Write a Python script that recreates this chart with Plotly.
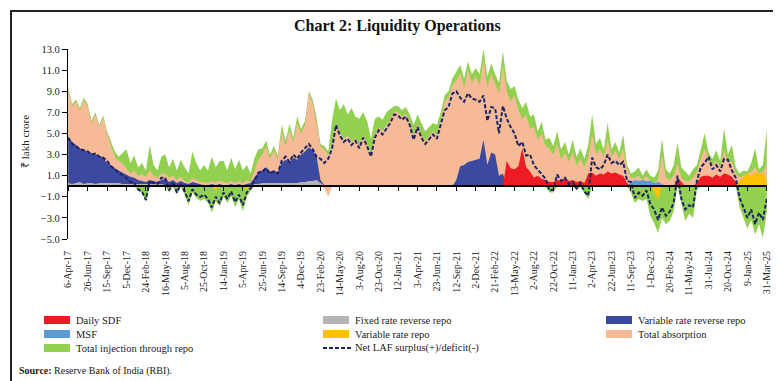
import pandas as pd
import plotly.graph_objects as go

# ---------------- DATA (lakh crore, sampled every ~16 days) ----------------
start_date = "2017-04-06"
end_date = "2025-03-31"
n_points = 181

total_absorption = [
    9.2, 7.6, 8.0, 7.2, 8.2,
    7.6, 6.0, 6.8, 5.6, 6.5,
    5.0, 3.8, 2.8, 2.4, 2.2,
    1.6, 1.2, 1.5, 1.0, 1.1,
    0.9, 1.5, 1.0, 0.8, 1.2,
    1.2, 0.8, 1.0, 0.6, 0.9,
    0.5, 0.3, 0.8, 0.6, 0.4,
    0.4, 0.3, 0.5, 0.4, 0.5,
    0.4, 0.3, 0.5, 0.3, 0.5,
    0.3, 0.6, 0.4, 1.5, 2.5,
    3.0, 3.8, 2.6, 3.4, 2.5,
    5.2, 3.8, 5.4, 4.2, 6.0,
    5.0, 5.8, 8.8, 7.8, 6.0,
    3.8, 3.5, 3.0, 4.0, 6.0,
    5.1, 4.5, 4.8, 4.2, 4.6,
    3.9, 4.9, 4.1, 3.1, 4.9,
    5.6, 5.2, 5.8, 6.3, 7.1,
    7.0, 6.6, 6.9, 6.1, 4.7,
    5.9, 4.9, 4.3, 4.7, 5.2,
    4.8, 6.2, 8.0, 8.4, 9.6,
    10.0, 10.7, 9.4, 11.0, 9.8,
    10.4, 9.6, 12.0, 9.4, 10.6,
    9.6, 8.8, 11.5, 9.0, 8.0,
    8.6, 7.2, 6.4, 6.8, 5.5,
    5.6, 4.4, 5.0, 3.8, 3.6,
    3.0, 4.0, 2.6, 3.2, 2.4,
    3.2, 2.0, 2.6, 1.8, 2.8,
    5.0, 3.0, 3.5, 2.8, 4.5,
    2.8, 3.4, 2.6, 3.6, 1.6,
    0.8, 0.8, 1.0, 0.6, 1.0,
    0.5, 0.3, 0.6, 3.0, 0.8,
    0.6, 1.0, 2.2, 0.8, 0.5,
    0.5, 0.8, 1.4, 2.6, 3.5,
    2.6, 2.0, 2.4, 1.8, 3.4,
    2.2, 2.4, 1.2, 0.8, 1.0,
    1.2, 1.4, 1.8, 1.2, 1.4,
    2.0]

total_absorption_below = [
    0, 0, 0, 0, 0, 0, 0, 0, 0, 0, 0, 0, 0, 0, 0, 0, 0, 0, 0, 0,
    0, 0, 0, 0, 0, 0, 0, 0, 0, 0, 0, 0, 0, 0, 0, 0, 0, 0, 0, 0,
    0, 0, 0, 0, 0, 0, 0, 0, 0, 0, 0, 0, 0, 0, 0, 0, 0, 0, 0, 0,
    0, 0, 0, 0, 0, 0, -0.2, -1.0, 0, 0, 0, 0, 0, 0, 0, 0, 0, 0, 0, 0,
    0, 0, 0, 0, 0, 0, 0, 0, 0, 0, 0, 0, 0, 0, 0, 0, 0, 0, 0, 0,
    0, 0, 0, 0, 0, 0, 0, 0, 0, 0, 0, 0, 0, 0, 0, 0, 0, 0, 0, 0,
    0, 0, 0, 0, 0, 0, 0, 0, 0, 0, 0, 0, 0, 0, 0, 0, 0, 0, 0, 0,
    0, 0, 0, 0, 0, 0, 0, 0, 0, 0, 0, 0, 0, 0, 0, 0, 0, 0, 0, 0,
    0, 0, 0, 0, 0, 0, 0, 0, 0, 0, 0, 0, 0, 0, 0, 0, 0, 0, 0, 0,
    0]

injection_top = [
    9.4, 7.8, 8.2, 7.4, 8.4,
    7.8, 6.2, 7.0, 5.8, 6.7,
    5.2, 4.2, 3.3, 2.8, 3.2,
    3.5, 2.2, 2.9, 1.8, 2.2,
    1.5, 3.9, 2.0, 1.5, 2.8,
    3.0, 1.8, 2.6, 1.5, 2.5,
    1.8, 1.2, 3.3, 2.2, 1.5,
    2.0, 1.5, 2.8, 1.8, 2.4,
    2.4, 1.5, 2.7, 1.6, 2.5,
    1.5, 2.0, 1.2, 2.7, 3.5,
    3.6, 4.3, 3.0, 3.8, 2.9,
    5.8, 4.3, 5.9, 4.6, 6.6,
    5.4, 6.2, 9.0, 8.2, 6.5,
    4.0, 3.8, 3.3, 6.3, 8.3,
    7.2, 7.8, 6.8, 7.4, 6.6,
    6.4, 7.0, 6.2, 4.5, 6.4,
    6.6, 6.3, 7.0, 7.3, 7.6,
    7.6, 7.2, 7.5, 6.8, 5.8,
    6.8, 6.0, 5.2, 5.6, 6.0,
    5.8, 7.0, 8.6, 9.0, 10.2,
    10.8, 11.5, 10.2, 11.8, 10.6,
    11.2, 10.6, 13.0, 10.4, 11.6,
    10.6, 9.8, 12.8, 10.0, 9.2,
    9.5, 8.2, 7.4, 8.0, 6.6,
    6.8, 5.2, 6.1, 4.4, 4.6,
    3.8, 5.2, 3.5, 4.2, 3.0,
    4.4, 2.8, 3.6, 2.6, 3.9,
    6.8, 4.0, 4.6, 3.5, 6.0,
    3.5, 4.2, 3.2, 4.9, 2.0,
    1.2, 1.4, 1.8, 1.0, 1.6,
    1.0, 0.8, 1.5, 4.5, 1.6,
    1.2, 2.0, 4.1, 1.8, 1.4,
    1.0, 1.6, 2.0, 3.5, 5.0,
    3.2, 2.6, 3.4, 2.4, 5.5,
    3.0, 3.9, 1.8, 1.2, 1.5,
    1.4, 2.2, 3.6, 1.6, 2.0,
    5.4]

injection_below = [
    0, 0, 0, 0, 0,
    0, 0, 0, 0, 0,
    0, 0, 0, 0, 0,
    0, 0, 0, -0.4, -0.6,
    -1.5, 0, 0, 0, 0,
    0, -0.6, 0, -0.8, 0,
    -0.8, -1.8, -0.6, -1.1, -1.4,
    -1.2, -1.6, -2.5, -1.4, -1.9,
    -1.0, -1.6, -0.9, -2.0, -1.2,
    -2.4, -1.0, -0.4, 0, 0,
    0, 0, 0, 0, 0, 0, 0, 0, 0, 0,
    0, 0, 0, 0, 0, 0, 0, 0, 0, 0,
    0, 0, 0, 0, 0, 0, 0, 0, 0, 0,
    0, 0, 0, 0, 0, 0, 0, 0, 0, 0,
    0, 0, 0, 0, 0, 0, 0, 0, 0, 0,
    0, 0, 0, 0, 0, 0, 0, 0, 0, 0,
    0, 0, 0, 0, 0, 0, 0, 0, 0, 0,
    0, 0, 0, 0, -0.6,
    -0.6, 0, 0, 0, 0,
    0, -0.4, 0, -0.7, -1.2,
    0, 0, 0, 0, 0,
    0, 0, 0, 0, 0,
    -0.6, -1.6, -1.2, -1.4, -1.2,
    -2.8, -3.5, -4.4, -3.0, -3.6,
    -3.3, -2.4, 0, -1.8, -3.3,
    -2.6, -3.0, -0.3, 0, 0,
    0, 0, 0, 0, 0,
    0, 0, 0, -2.0, -3.0,
    -4.0, -3.2, -4.6, -3.6, -4.9,
    -2.5]

net_laf = [
    4.6, 4.0, 3.8, 3.5, 3.4,
    3.3, 3.0, 3.1, 2.8, 2.7,
    2.4, 1.9, 1.6, 1.3, 1.0,
    0.8, 0.4, 0.3, -0.3, -0.5,
    -1.3, 0.5, 0.3, 0.2, 0.8,
    0.8, -0.4, 0.4, -0.6, 0.2,
    -0.5, -1.4, -0.3, -0.8, -1.0,
    -0.8, -1.2, -2.0, -1.0, -1.6,
    -0.6, -1.2, -0.5, -1.5, -0.8,
    -1.8, -0.6, -0.2, 0.6, 1.3,
    1.4, 1.7, 1.2, 1.4, 1.2,
    2.4, 2.8, 2.3, 3.0, 2.6,
    3.2, 3.6, 4.0, 3.5, 2.8,
    2.6, 2.2, 2.6, 3.6, 5.8,
    4.8, 4.2, 4.5, 3.9, 4.3,
    3.6, 4.6, 3.8, 2.8, 4.6,
    5.3, 4.9, 5.5, 6.0, 6.8,
    6.7, 6.3, 6.6, 5.8, 4.4,
    5.6, 4.6, 4.0, 4.4, 4.9,
    4.5, 5.8, 7.2, 7.5, 8.8,
    9.0, 8.4, 8.0, 8.8, 8.3,
    8.2, 8.0, 8.6, 6.2, 7.5,
    7.4, 5.0, 7.6, 6.4, 5.6,
    5.0, 3.8, 4.2, 2.9, 3.0,
    2.0, 1.6, 1.2, 0.7, -0.4,
    -0.3, 1.1, 0.5, 0.8, 0.2,
    0.4, -0.2, 0.3, -0.5, -0.9,
    2.7, 1.8, 1.6, 2.0, 3.0,
    2.2, 2.4, 2.0, 2.3, 0.5,
    0.4, -1.1, -0.6, -0.9, -0.4,
    -1.7, -2.2, -3.2, -2.0, -2.8,
    -2.4, -1.6, 1.0, -1.2, -2.2,
    -1.8, -2.0, 0.5, 1.8, 2.2,
    2.8, 1.6, 2.0, 1.4, 2.6,
    2.5, 1.5, 0.8, -1.1, -2.0,
    -3.0, -2.2, -3.6, -2.5, -3.2,
    -1.2]

fixed_rate_reverse_repo = [
    0.3, 0.2, 0.3, 0.4, 0.2,
    0.3, 0.3, 0.2, 0.3, 0.3,
    0.3, 0.3, 0.3, 0.3, 0.2,
    0.2, 0.2, 0.2, 0.2, 0.2,
    0.2, 0.2, 0.2, 0.2, 0.2,
    0.1, 0.1, 0.1, 0.1, 0.1,
    0.1, 0.1, 0.1, 0.1, 0.1,
    0.1, 0.1, 0.1, 0.1, 0.1,
    0.1, 0.1, 0.1, 0.1, 0.1,
    0.1, 0.1, 0.1, 0.2, 0.2,
    0.3, 0.3, 0.3, 0.3, 0.3,
    0.3, 0.3, 0.3, 0.3, 0.3,
    0.4, 0.4, 0.5, 0.5, 0.6,
    0.3, 0.1, 0, 0, 0,
    0, 0, 0, 0, 0, 0, 0, 0, 0, 0,
    0, 0, 0, 0, 0, 0, 0, 0, 0, 0,
    0, 0, 0, 0, 0, 0, 0, 0, 0, 0,
    0, 0, 0, 0, 0, 0, 0, 0, 0, 0,
    0, 0, 0, 0, 0, 0, 0, 0, 0, 0,
    0, 0, 0, 0, 0, 0, 0, 0, 0, 0,
    0, 0, 0, 0, 0, 0, 0, 0, 0, 0,
    0, 0, 0, 0, 0, 0, 0, 0, 0, 0,
    0, 0, 0, 0, 0, 0, 0, 0, 0, 0,
    0, 0, 0, 0, 0, 0, 0, 0, 0, 0,
    0, 0, 0, 0, 0, 0, 0, 0, 0, 0,
    0]

variable_rate_reverse_repo = [
    4.4, 4.0, 3.6, 3.2, 3.2,
    3.0, 2.8, 2.8, 2.6, 2.4,
    1.9, 1.7, 1.4, 1.2, 1.1,
    0.9, 0.7, 0.6, 0.4, 0.3,
    0.2, 0.4, 0.3, 0.2, 0.4,
    0.6, 0.3, 0.5, 0.2, 0.4,
    0.2, 0.1, 0.3, 0.2, 0.1,
    0.0, 0.0, 0.1, 0.0, 0.1,
    0.0, 0.0, 0.1, 0.0, 0.1,
    0.0, 0.1, 0.2, 0.6, 1.1,
    1.2, 1.5, 1.1, 1.2, 1.0,
    1.9, 2.2, 2.0, 2.4, 2.2,
    2.6, 2.9, 3.2, 2.9, 2.2,
    0.3, 0, 0, 0, 0,
    0, 0, 0, 0, 0,
    0, 0, 0, 0, 0,
    0, 0, 0, 0, 0,
    0, 0, 0, 0, 0,
    0, 0, 0, 0, 0,
    0, 0, 0, 0, 0,
    0.6, 1.9, 2.0, 2.3, 2.4,
    2.5, 2.6, 4.4, 2.0, 3.2,
    3.0, 1.0, 1.2, 0, 0,
    0, 0, 0, 0, 0, 0, 0, 0, 0, 0,
    0, 0, 0, 0, 0, 0, 0, 0, 0, 0,
    0, 0, 0, 0, 0, 0, 0, 0, 0, 0,
    0, 0, 0, 0, 0, 0, 0, 0, 0, 0,
    0, 0, 0, 0, 0, 0, 0, 0, 0, 0,
    0, 0, 0, 0, 0, 0, 0, 0, 0, 0,
    0, 0, 0, 0, 0,
    0]

daily_sdf = [
    0, 0, 0, 0, 0, 0, 0, 0, 0, 0, 0, 0, 0, 0, 0, 0, 0, 0, 0, 0,
    0, 0, 0, 0, 0, 0, 0, 0, 0, 0, 0, 0, 0, 0, 0, 0, 0, 0, 0, 0,
    0, 0, 0, 0, 0, 0, 0, 0, 0, 0, 0, 0, 0, 0, 0, 0, 0, 0, 0, 0,
    0, 0, 0, 0, 0, 0, 0, 0, 0, 0, 0, 0, 0, 0, 0, 0, 0, 0, 0, 0,
    0, 0, 0, 0, 0, 0, 0, 0, 0, 0, 0, 0, 0, 0, 0, 0, 0, 0, 0, 0,
    0, 0, 0, 0, 0, 0, 0, 0, 0, 0,
    0, 0, 0, 2.4, 1.7,
    1.6, 1.9, 3.6, 1.8, 1.4,
    0.8, 1.0, 0.7, 0.6, 0.4,
    0.4, 0.6, 0.5, 0.8, 0.5,
    0.6, 0.4, 0.5, 0.3, 1.2,
    1.3, 1.0, 1.2, 1.1, 1.4,
    1.2, 1.3, 1.1, 1.0, 0.3,
    0, 0, 0, 0, 0,
    0, 0, 0, 0, 0,
    0, 0, 0.8, 0.4, 0,
    0, 0, 0.3, 0.9, 1.0,
    1.0, 0.8, 1.1, 0.9, 1.2,
    1.1, 0.9, 0.4, 0, 0,
    0, 0, 0, 0, 0,
    0]

msf = [
    0, 0, 0, 0, 0, 0, 0, 0, 0, 0, 0, 0, 0, 0, 0, 0, 0, 0, 0, 0,
    0, 0, 0, 0, 0, 0, 0, 0, 0, 0, 0, 0, 0, 0, 0, 0, 0, 0, 0, 0,
    0, 0, 0, 0, 0, 0, 0, 0, 0, 0, 0, 0, 0, 0, 0, 0, 0, 0, 0, 0,
    0, 0, 0, 0, 0, 0, 0, 0, 0, 0, 0, 0, 0, 0, 0, 0, 0, 0, 0, 0,
    0, 0, 0, 0, 0, 0, 0, 0, 0, 0, 0, 0, 0, 0, 0, 0, 0, 0, 0, 0,
    0, 0, 0, 0, 0, 0, 0, 0, 0, 0, 0, 0, 0, 0, 0, 0, 0, 0, 0, 0,
    0, 0, 0, 0, 0, 0, 0, 0, 0, 0, 0, 0, 0, 0, 0, 0, 0, 0, 0, 0,
    0, 0, 0, 0, 0,
    0.4, 0.6, 0.5, 0.6, 0.5,
    0.5, 0.3, 0.4, 0.2, 0,
    0, 0, 0, 0, 0, 0, 0, 0, 0, 0,
    0, 0, 0, 0, 0, 0, 0, 0, 0, 0,
    0, 0, 0, 0, 0,
    0]

variable_rate_repo = [
    0, 0, 0, 0, 0, 0, 0, 0, 0, 0, 0, 0, 0, 0, 0, 0, 0, 0, 0, 0,
    0, 0, 0, 0, 0, 0, 0, 0, 0, 0, 0, 0, 0, 0, 0,
    0, 0, 0, -0.4, 0,
    0, 0, 0, 0, 0,
    0, -0.3, 0, 0, 0,
    0, 0, 0, 0, 0, 0, 0, 0, 0, 0, 0, 0, 0, 0, 0, 0, 0, 0, 0, 0,
    0, 0, 0, 0, 0, 0, 0, 0, 0, 0, 0, 0, 0, 0, 0, 0, 0, 0, 0, 0,
    0, 0, 0, 0, 0, 0, 0, 0, 0, 0, 0, 0, 0, 0, 0, 0, 0, 0, 0, 0,
    0, 0, 0, 0, 0, 0, 0, 0, 0, 0, 0, 0, 0, 0, 0, 0, 0, 0, 0, 0,
    0, 0, 0, 0, 0, 0, 0, 0, 0, 0, 0, 0, 0, 0, 0, 0, 0, 0, 0, 0,
    0, -0.5, -1.2, 0, 0,
    0, 0, 0, 0, 0,
    0, 0, 0, 0, 0,
    0, 0, 0, 0, 0,
    0, 0, 0, 0.6, 0.8,
    1.2, 1.0, 1.4, 1.1, 1.3,
    0.5]

tick_dates = ["2017-04-06", "2017-06-26", "2017-09-15", "2017-12-05", "2018-02-24",
              "2018-05-16", "2018-08-05", "2018-10-25", "2019-01-14", "2019-04-05",
              "2019-06-25", "2019-09-14", "2019-12-04", "2020-02-23", "2020-05-14",
              "2020-08-03", "2020-10-23", "2021-01-12", "2021-04-03", "2021-06-23",
              "2021-09-12", "2021-12-02", "2022-02-21", "2022-05-13", "2022-08-02",
              "2022-10-22", "2023-01-11", "2023-04-02", "2023-06-22", "2023-09-11",
              "2023-12-01", "2024-02-20", "2024-05-11", "2024-07-31", "2024-10-20",
              "2025-01-09", "2025-03-31"]
tick_labels = ["6-Apr-17", "26-Jun-17", "15-Sep-17", "5-Dec-17", "24-Feb-18",
               "16-May-18", "5-Aug-18", "25-Oct-18", "14-Jan-19", "5-Apr-19",
               "25-Jun-19", "14-Sep-19", "4-Dec-19", "23-Feb-20", "14-May-20",
               "3-Aug-20", "23-Oct-20", "12-Jan-21", "3-Apr-21", "23-Jun-21",
               "12-Sep-21", "2-Dec-21", "21-Feb-22", "13-May-22", "2-Aug-22",
               "22-Oct-22", "11-Jan-23", "2-Apr-23", "22-Jun-23", "11-Sep-23",
               "1-Dec-23", "20-Feb-24", "11-May-24", "31-Jul-24", "20-Oct-24",
               "9-Jan-25", "31-Mar-25"]
y_ticks = [-5, -3, -1, 1, 3, 5, 7, 9, 11, 13]

legend_items = [
    ("Daily SDF", "#ed1c24", "box"), ("Fixed rate reverse repo", "#b4b4b4", "box"),
    ("Variable rate reverse repo", "#3b4aa0", "box"),
    ("MSF", "#5b9bd5", "box"), ("Variable rate repo", "#ffc000", "box"),
    ("Total absorption", "#f6bb96", "box"),
    ("Total injection through repo", "#92d050", "box"),
    ("Net LAF surplus(+)/deficit(-)", "#1c2463", "dash"),
]

# ---------------- FIGURE ----------------
dates = pd.date_range(start_date, end_date, periods=n_points)
series = dict(total_absorption=total_absorption, total_absorption_below=total_absorption_below,
              injection_top=injection_top, injection_below=injection_below, net_laf=net_laf,
              fixed_rate_reverse_repo=fixed_rate_reverse_repo,
              variable_rate_reverse_repo=variable_rate_reverse_repo,
              daily_sdf=daily_sdf, msf=msf, variable_rate_repo=variable_rate_repo)
for nm, arr in series.items():
    assert len(arr) == n_points, (nm, len(arr))

W, H = 781, 381
ML, MR, MT, MB = 60, 22, 41, 150
PW, PH = W - ML - MR, H - MT - MB
FONT = "Liberation Serif"


def px(x):
    return (x - ML) / PW


def py(y):
    return (H - MB - y) / PH


colors = {name: c for name, c, _ in legend_items}

fig = go.Figure()


def area(y, color, **kw):
    fig.add_trace(go.Scatter(x=dates, y=y, mode="lines", line=dict(width=0, color=color),
                             fill=kw.pop("fill", "tozeroy"), fillcolor=color,
                             hoverinfo="skip", showlegend=False, **kw))


area(injection_top, colors["Total injection through repo"])
area(total_absorption, colors["Total absorption"])
area(fixed_rate_reverse_repo, colors["Fixed rate reverse repo"], stackgroup="rr")
area(variable_rate_reverse_repo, colors["Variable rate reverse repo"], stackgroup="rr", fill="tonexty")
area(daily_sdf, colors["Daily SDF"])
area(msf, colors["MSF"])
area(injection_below, colors["Total injection through repo"])
area(total_absorption_below, colors["Total absorption"])
area(variable_rate_repo, colors["Variable rate repo"])
fig.add_trace(go.Scatter(x=dates, y=net_laf, mode="lines",
                         line=dict(color=colors["Net LAF surplus(+)/deficit(-)"], width=2, dash="4px,2px"),
                         showlegend=False, hoverinfo="skip"))
# carrier for the zero-line axis
fig.add_trace(go.Scatter(x=[dates[0]], y=[None], xaxis="x2", showlegend=False, hoverinfo="skip"))

x_range = ["2017-04-05", "2025-04-01"]
ymin, ymax = -5, 13

fig.update_layout(
    width=W, height=H, margin=dict(l=ML, r=MR, t=MT, b=MB),
    paper_bgcolor="white", plot_bgcolor="white", showlegend=False,
    font=dict(family=FONT, color="#222", size=10),
    xaxis=dict(type="date", range=x_range, tickvals=tick_dates, ticktext=tick_labels,
               tickangle=-90, showline=False, ticks="", showgrid=False, zeroline=False,
               tickfont=dict(family=FONT, size=10, color="#222"), ticklabelstandoff=9),
    xaxis2=dict(type="date", range=x_range, overlaying="x", anchor="free",
                position=(0 - ymin) / (ymax - ymin), side="bottom",
                tickvals=tick_dates, showticklabels=False, ticks="outside", ticklen=4,
                tickcolor="black", showline=True, linecolor="black", linewidth=1.5,
                showgrid=False, zeroline=False),
    yaxis=dict(range=[ymin, ymax], tickvals=y_ticks, tickformat=".1f", showgrid=False,
               zeroline=False, showline=True, linecolor="black", linewidth=1.2,
               ticks="outside", ticklen=5, tickcolor="black",
               tickfont=dict(family=FONT, size=10.5, color="#222")),
)

shapes = [dict(type="rect", xref="paper", yref="paper", x0=px(3), x1=px(777), y0=py(3), y1=py(377),
               line=dict(color="#222", width=2), fillcolor="rgba(0,0,0,0)", layer="above")]
annotations = [
    dict(text="<b>Chart 2: Liquidity Operations</b>", x=px(389), y=py(18), xref="paper", yref="paper",
         showarrow=False, font=dict(family=FONT, size=16, color="#111"), xanchor="center", yanchor="middle"),
    dict(text="₹ lakh crore", x=px(17), y=py(134), xref="paper", yref="paper", textangle=-90,
         showarrow=False, font=dict(family=FONT, size=11, color="#222"), xanchor="center", yanchor="middle"),
    dict(text="<b>Source:</b> Reserve Bank of India (RBI).", x=px(9), y=py(363), xref="paper", yref="paper",
         showarrow=False, font=dict(family=FONT, size=10, color="#222"), xanchor="left", yanchor="middle"),
]

col_x = [36, 315, 598]
row_y = [312, 326, 340]
for i, (name, color, kind) in enumerate(legend_items):
    cx, ry = col_x[i % 3], row_y[i // 3]
    if kind == "box":
        shapes.append(dict(type="rect", xref="paper", yref="paper", x0=px(cx), x1=px(cx + 26),
                           y0=py(ry + 4), y1=py(ry - 4), line=dict(width=0), fillcolor=color))
    else:
        shapes.append(dict(type="line", xref="paper", yref="paper", x0=px(cx), x1=px(cx + 28),
                           y0=py(ry), y1=py(ry), line=dict(color=color, width=2, dash="4px,2px")))
    annotations.append(dict(text=name, x=px(cx + 30), y=py(ry), xref="paper", yref="paper",
                            showarrow=False, xanchor="left", yanchor="middle",
                            font=dict(family=FONT, size=10.5, color="#222")))

fig.update_layout(shapes=shapes, annotations=annotations)
fig.write_html("out.html")
